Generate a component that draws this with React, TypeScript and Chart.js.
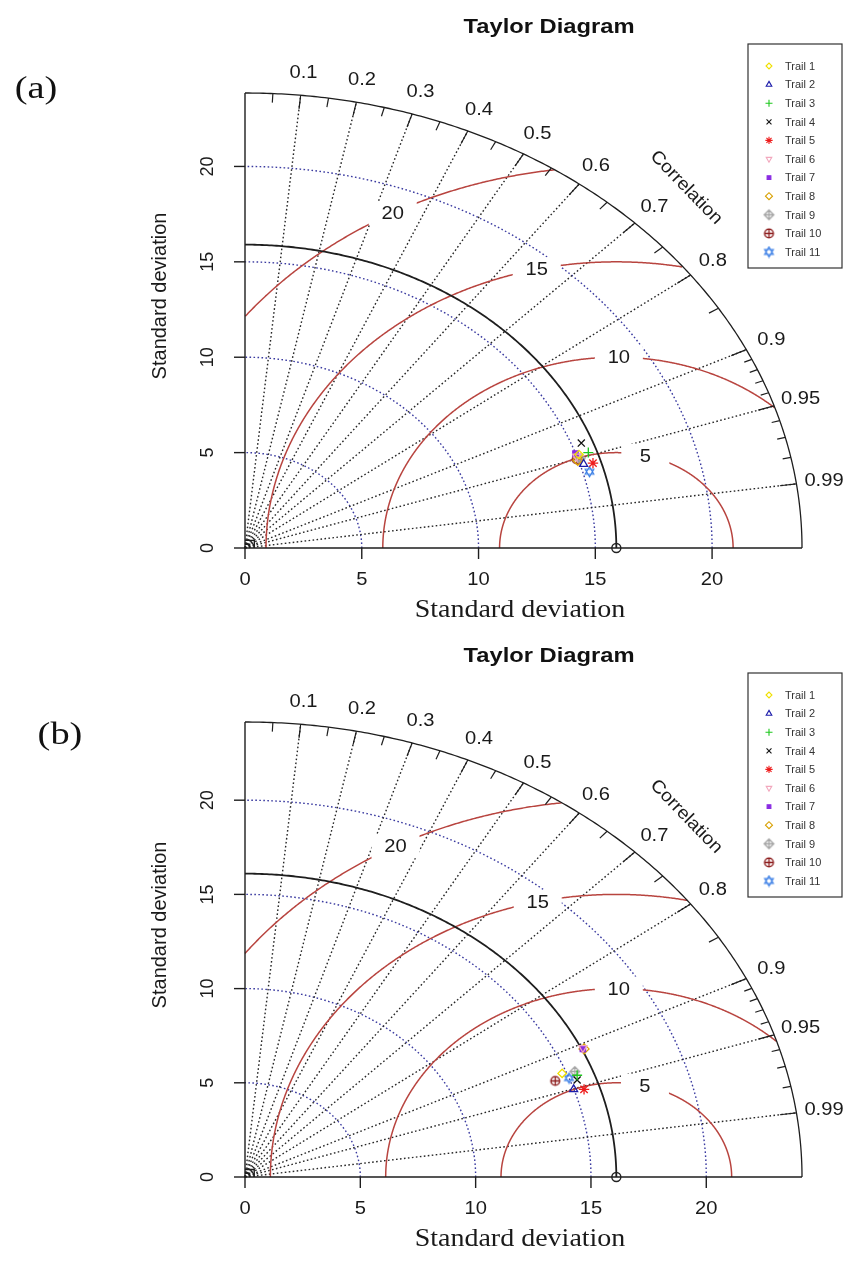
import React, { useEffect, useRef } from 'react';
import { Chart, registerables } from 'chart.js';
import { drawPoint } from 'chart.js/helpers';

Chart.register(...registerables);

// ---------- data ----------
const trailNames = ['Trail 1', 'Trail 2', 'Trail 3', 'Trail 4', 'Trail 5', 'Trail 6', 'Trail 7', 'Trail 8', 'Trail 9', 'Trail 10', 'Trail 11'];
const trailColors = ['#f0e000', '#1c1caa', '#1ec81e', '#111111', '#ee1c1c', '#f2a7bd', '#8a2be2', '#d8a000', '#a6a6a6', '#8b1a1a', '#3b7fe6'];

// panel (a): x = sd*cor, y = sd*sqrt(1-cor^2)
const panelAX = [14.3, 14.5, 14.7, 14.4, 14.9, 14.2, 14.15, 14.25, 14.35, 14.2, 14.75];
const panelAY = [4.9, 4.4, 5.0, 5.5, 4.45, 4.8, 4.95, 4.6, 4.7, 4.65, 4.0];
// panel (b)
const panelBX = [13.75, 14.25, 14.4, 14.4, 14.7, 14.65, 14.65, 14.7, 14.3, 13.45, 14.05];
const panelBY = [5.5, 4.65, 5.4, 5.15, 4.65, 6.85, 6.8, 6.8, 5.6, 5.1, 5.25];

const refSdA = 15.9;
const refSdB = 16.1;

const corrLines = [0.1, 0.2, 0.3, 0.4, 0.5, 0.6, 0.7, 0.8, 0.9, 0.95, 0.99];
const corrLabels = ['0.1', '0.2', '0.3', '0.4', '0.5', '0.6', '0.7', '0.8', '0.9', '0.95', '0.99'];
const bigTicks = [0.1, 0.2, 0.3, 0.4, 0.5, 0.6, 0.7, 0.8, 0.9, 0.95, 0.99];
const medTicks = [0.05, 0.15, 0.25, 0.35, 0.45, 0.55, 0.65, 0.75, 0.85];
const smallTicks = [0.91, 0.92, 0.93, 0.94, 0.96, 0.97, 0.98];
const sdTicks = [0, 5, 10, 15, 20];
const sdTickLabels = ['0', '5', '10', '15', '20'];
const sdArcs = [5, 10, 15, 20];
const rmsLevels = [5, 10, 15, 20];
const rmsLabelAngles = [1.32, 1.56, 1.8, 2.07];

const W = 851;
const H = 631;
const SANS = '"Liberation Sans", Arial, sans-serif';
const SERIF = '"Liberation Serif", "Times New Roman", serif';
const STRETCH = 1.12;

function txt(ctx: CanvasRenderingContext2D, s: string, x: number, y: number, rot = 0, sx = STRETCH) {
  ctx.save();
  ctx.translate(x, y);
  if (rot) ctx.rotate(rot);
  ctx.scale(rot ? 1 : sx, 1);
  ctx.fillText(s, 0, 0);
  ctx.restore();
}

function makeMarker(draw: (g: CanvasRenderingContext2D) => void, size = 13) {
  const c = document.createElement('canvas');
  c.width = size;
  c.height = size;
  const g = c.getContext('2d') as CanvasRenderingContext2D;
  g.translate(size / 2, size / 2);
  draw(g);
  return c;
}

function buildStyles() {
  const diamondPlus = makeMarker((g) => {
    g.strokeStyle = trailColors[8];
    g.lineWidth = 1.3;
    g.beginPath();
    g.moveTo(0, -4.8); g.lineTo(4.8, 0); g.lineTo(0, 4.8); g.lineTo(-4.8, 0); g.closePath();
    g.moveTo(0, -4.8); g.lineTo(0, 4.8); g.moveTo(-4.8, 0); g.lineTo(4.8, 0);
    g.stroke();
  });
  const circlePlus = makeMarker((g) => {
    g.strokeStyle = trailColors[9];
    g.lineWidth = 1.3;
    g.beginPath();
    g.arc(0, 0, 4.4, 0, Math.PI * 2);
    g.moveTo(0, -4.4); g.lineTo(0, 4.4); g.moveTo(-4.4, 0); g.lineTo(4.4, 0);
    g.stroke();
  });
  const hexagram = makeMarker((g) => {
    g.strokeStyle = trailColors[10];
    g.lineWidth = 1.2;
    const r = 5;
    g.beginPath();
    for (let k = 0; k < 3; k++) {
      const a = -Math.PI / 2 + (k * 2 * Math.PI) / 3;
      const x = r * Math.cos(a), y = r * Math.sin(a);
      if (k === 0) g.moveTo(x, y); else g.lineTo(x, y);
    }
    g.closePath();
    for (let k = 0; k < 3; k++) {
      const a = Math.PI / 2 + (k * 2 * Math.PI) / 3;
      const x = r * Math.cos(a), y = r * Math.sin(a);
      if (k === 0) g.moveTo(x, y); else g.lineTo(x, y);
    }
    g.closePath();
    g.stroke();
  });
  return [
    { pointStyle: 'rectRot', rotation: 0, radius: 4.2, fill: false },
    { pointStyle: 'triangle', rotation: 0, radius: 4.6, fill: false },
    { pointStyle: 'cross', rotation: 0, radius: 5, fill: false },
    { pointStyle: 'crossRot', rotation: 0, radius: 5, fill: false },
    { pointStyle: 'star', rotation: 0, radius: 5.2, fill: false },
    { pointStyle: 'triangle', rotation: 180, radius: 4.6, fill: false },
    { pointStyle: 'rect', rotation: 0, radius: 3.8, fill: true },
    { pointStyle: 'rectRot', rotation: 0, radius: 5, fill: false },
    { pointStyle: diamondPlus as any, rotation: 0, radius: 5, fill: false },
    { pointStyle: circlePlus as any, rotation: 0, radius: 5, fill: false },
    { pointStyle: hexagram as any, rotation: 0, radius: 5, fill: false },
  ];
}

type PanelCfg = {
  refSd: number;
  xs: number[];
  ys: number[];
  tag: string;
  tagX: number;
  tagY: number;
};

function taylorPlugin(cfg: PanelCfg, styles: any[]) {
  const maxsd = 1.5 * cfg.refSd;
  return {
    id: 'taylor',
    beforeDatasetsDraw(chart: any) {
      const ctx: CanvasRenderingContext2D = chart.ctx;
      const sx = chart.scales.x;
      const sy = chart.scales.y;
      const P = (x: number, y: number): [number, number] => [sx.getPixelForValue(x), sy.getPixelForValue(y)];
      const line = (pts: [number, number][]) => {
        ctx.beginPath();
        pts.forEach((p, i) => (i ? ctx.lineTo(p[0], p[1]) : ctx.moveTo(p[0], p[1])));
        ctx.stroke();
      };
      const arc0 = (r: number) => {
        const pts: [number, number][] = [];
        for (let k = 0; k <= 240; k++) {
          const t = (k / 240) * (Math.PI / 2);
          pts.push(P(r * Math.cos(t), r * Math.sin(t)));
        }
        return pts;
      };
      ctx.save();
      // sd arcs (blue dotted)
      ctx.strokeStyle = '#3a3aa0';
      ctx.lineWidth = 1.4;
      ctx.setLineDash([1.6, 2.4]);
      sdArcs.forEach((r) => line(arc0(r)));
      // correlation rays (black dotted)
      ctx.strokeStyle = '#262626';
      ctx.lineWidth = 1.4;
      ctx.setLineDash([1.6, 2.4]);
      corrLines.forEach((c) => line([P(0, 0), P(maxsd * c, maxsd * Math.sqrt(1 - c * c))]));
      ctx.setLineDash([]);
      // RMS contours (red)
      ctx.strokeStyle = '#b8443f';
      ctx.lineWidth = 1.5;
      rmsLevels.forEach((g) => {
        const N = 900;
        const pts: [number, number][] = [];
        let started = false;
        for (let k = 0; k <= N; k++) {
          const t = (k / N) * Math.PI;
          const x = cfg.refSd + g * Math.cos(t);
          const y = g * Math.sin(t);
          if (x < 0) break;
          if (x * x + y * y > maxsd * maxsd) {
            if (started) break;
            continue;
          }
          started = true;
          pts.push(P(x, y));
        }
        line(pts);
      });
      // reference sd arc
      ctx.strokeStyle = '#1e1e1e';
      ctx.lineWidth = 1.8;
      line(arc0(cfg.refSd));
      // outer arc
      ctx.lineWidth = 1.3;
      line(arc0(maxsd));
      // correlation ticks
      const tick = (c: number, f: number) => {
        const s = Math.sqrt(1 - c * c);
        line([P(maxsd * c, maxsd * s), P(maxsd * (1 - f) * c, maxsd * (1 - f) * s)]);
      };
      ctx.lineWidth = 1.2;
      bigTicks.forEach((c) => tick(c, 0.03));
      medTicks.forEach((c) => tick(c, 0.02));
      smallTicks.forEach((c) => tick(c, 0.015));
      // axes
      ctx.lineWidth = 1.4;
      const [ox, oy] = P(0, 0);
      line([P(0, maxsd), P(0, 0), P(maxsd, 0)]);
      sdTicks.forEach((v) => {
        const [tx] = P(v, 0);
        line([[tx, oy], [tx, oy + 11]]);
        const [, ty] = P(0, v);
        line([[ox, ty], [ox - 11, ty]]);
      });
      // small marks at origin
      ctx.lineWidth = 1.4;
      [0.2, 0.4].forEach((d) => {
        line([P(0, d), P(d, d), P(d, 0)]);
      });
      // RMS labels with white boxes
      ctx.font = `18px ${SANS}`;
      ctx.textAlign = 'center';
      ctx.textBaseline = 'middle';
      rmsLevels.forEach((g, i) => {
        const t = rmsLabelAngles[i];
        const x = cfg.refSd + g * Math.cos(t);
        const y = g * Math.sin(t);
        if (x <= 0) return;
        const [px, py] = P(x, y);
        ctx.fillStyle = '#ffffff';
        ctx.fillRect(px - 24, py - 12, 48, 24);
        ctx.fillStyle = '#1a1a1a';
        txt(ctx, String(g), px, py + 1);
      });
      // correlation labels
      ctx.fillStyle = '#1a1a1a';
      corrLines.forEach((c, i) => {
        const s = Math.sqrt(1 - c * c);
        const [px, py] = P(1.05 * maxsd * c, 1.05 * maxsd * s);
        txt(ctx, corrLabels[i], px, py);
      });
      // "Correlation"
      {
        const a = Math.PI / 4;
        const [px, py] = P(1.12 * maxsd * Math.cos(a), 1.12 * maxsd * Math.sin(a));
        ctx.save();
        ctx.translate(px, py);
        ctx.rotate(0.8);
        ctx.scale(1.08, 1);
        ctx.font = `18px ${SANS}`;
        ctx.fillText('Correlation', 0, 0);
        ctx.restore();
      }
      // axis tick labels
      ctx.font = `18px ${SANS}`;
      sdTicks.forEach((v, i) => {
        const [tx] = P(v, 0);
        txt(ctx, sdTickLabels[i], tx, oy + 32);
        const [, ty] = P(0, v);
        txt(ctx, sdTickLabels[i], ox - 37, ty, -Math.PI / 2);
      });
      // axis titles
      ctx.font = `20px ${SANS}`;
      txt(ctx, 'Standard deviation', 160, 296, -Math.PI / 2);
      ctx.font = `25px ${SERIF}`;
      txt(ctx, 'Standard deviation', 520, oy + 62);
      ctx.restore();
    },
    afterDraw(chart: any) {
      const ctx: CanvasRenderingContext2D = chart.ctx;
      ctx.save();
      // title
      ctx.fillStyle = '#111';
      ctx.textAlign = 'center';
      ctx.textBaseline = 'middle';
      ctx.font = `bold 21px ${SANS}`;
      txt(ctx, 'Taylor Diagram', 549, 27, 0, 1.13);
      // panel tag
      ctx.font = `32px ${SERIF}`;
      txt(ctx, cfg.tag, cfg.tagX, cfg.tagY, 0, 1.2);
      // legend
      const bx = 748, by = 44, bw = 94, bh = 224;
      ctx.strokeStyle = '#333';
      ctx.lineWidth = 1.2;
      ctx.fillStyle = '#fff';
      ctx.fillRect(bx, by, bw, bh);
      ctx.strokeRect(bx, by, bw, bh);
      ctx.font = `10px ${SANS}`;
      ctx.textAlign = 'left';
      trailNames.forEach((name, i) => {
        const yy = by + 22 + i * 18.6;
        const st = styles[i];
        ctx.strokeStyle = trailColors[i];
        ctx.fillStyle = st.fill ? trailColors[i] : 'rgba(0,0,0,0)';
        ctx.lineWidth = 1.1;
        drawPoint(ctx, { pointStyle: st.pointStyle, rotation: st.rotation, radius: st.radius * 0.7, borderWidth: 1.1 } as any, 769, yy);
        ctx.fillStyle = '#333';
        txt(ctx, name, 785, yy + 1, 0, 1.1);
      });
      ctx.restore();
    },
  };
}

function TaylorPanel({ cfg }: { cfg: PanelCfg }) {
  const ref = useRef<HTMLCanvasElement | null>(null);
  useEffect(() => {
    const canvas = ref.current;
    if (!canvas) return;
    const styles = buildStyles();
    const maxsd = 1.5 * cfg.refSd;
    const datasets: any[] = trailNames.map((name, i) => ({
      label: name,
      data: [{ x: cfg.xs[i], y: cfg.ys[i] }],
      pointStyle: styles[i].pointStyle,
      pointRotation: styles[i].rotation,
      pointRadius: styles[i].radius,
      pointBorderColor: trailColors[i],
      pointBackgroundColor: styles[i].fill ? trailColors[i] : 'rgba(0,0,0,0)',
      pointBorderWidth: 1.3,
      clip: false,
    }));
    datasets.push({
      label: 'Reference',
      data: [{ x: cfg.refSd, y: 0 }],
      pointStyle: 'circle',
      pointRadius: 4.5,
      pointBorderColor: '#222',
      pointBackgroundColor: 'rgba(0,0,0,0)',
      pointBorderWidth: 1.4,
      clip: false,
    });
    const chart = new Chart(canvas, {
      type: 'scatter',
      data: { datasets },
      options: {
        responsive: false,
        animation: false,
        devicePixelRatio: 1,
        events: [],
        layout: { padding: { left: 245, right: W - 802, top: 93, bottom: H - 548 } },
        scales: {
          x: { type: 'linear', min: 0, max: maxsd, display: false },
          y: { type: 'linear', min: 0, max: maxsd, display: false },
        },
        plugins: { legend: { display: false }, tooltip: { enabled: false }, title: { display: false } },
      },
      plugins: [taylorPlugin(cfg, styles)],
    } as any);
    return () => chart.destroy();
  }, [cfg]);
  return <canvas ref={ref} width={W} height={H} style={{ display: 'block', width: W, height: H }} />;
}

const cfgA: PanelCfg = { refSd: refSdA, xs: panelAX, ys: panelAY, tag: '(a)', tagX: 36, tagY: 90 };
const cfgB: PanelCfg = { refSd: refSdB, xs: panelBX, ys: panelBY, tag: '(b)', tagX: 60, tagY: 107 };

export default function App() {
  return (
    <div style={{ position: 'absolute', left: 0, top: 0, width: W, height: 1262, background: '#fff', overflow: 'hidden' }}>
      <div style={{ position: 'absolute', left: 0, top: 0 }}>
        <TaylorPanel cfg={cfgA} />
      </div>
      <div style={{ position: 'absolute', left: 0, top: 629 }}>
        <TaylorPanel cfg={cfgB} />
      </div>
    </div>
  );
}
